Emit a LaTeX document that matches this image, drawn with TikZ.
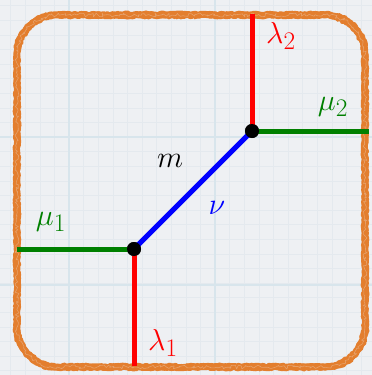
\documentclass[tikz,border=0pt]{standalone}
\usetikzlibrary{decorations.pathmorphing}
\definecolor{bgc}{RGB}{238,240,243}
\definecolor{gridminor}{RGB}{228,233,238}
\definecolor{gridmajor}{RGB}{216,229,236}
\definecolor{chalk}{RGB}{227,126,46}
\definecolor{lgreen}{RGB}{0,128,0}
\tikzset{
  minorline/.style={draw=gridminor, line width=0.6pt},
  majorline/.style={draw=gridmajor, line width=1.2pt},
  chalkline/.style={draw=chalk, line join=round,
     decorate, decoration={random steps, segment length=2pt, amplitude=#1}},
  redline/.style={draw=red, line width=5pt},
  greenline/.style={draw=lgreen, line width=5pt},
  blueline/.style={draw=blue, line width=5pt},
  dotnode/.style={circle, fill=black, inner sep=0pt, minimum size=14pt},
  lab/.style={inner sep=0pt, font=\Huge}
}
\newcommand{\biglab}[1]{\scalebox{1.22}{$#1$}}
\newcommand{\chalkpath}[4]{% left top right bottom
  (#1,#2+40) .. controls (#1,#2+18) and (#1+18,#2) .. (#1+40,#2)
  -- (#3-40,#2) .. controls (#3-18,#2) and (#3,#2+18) .. (#3,#2+40)
  -- (#3,#4-40) .. controls (#3,#4-18) and (#3-18,#4) .. (#3-40,#4)
  -- (#1+40,#4) .. controls (#1+18,#4) and (#1,#4-18) .. (#1,#4-40) -- cycle}
\begin{document}
\begin{tikzpicture}[x=1pt,y=-1pt]
\useasboundingbox (0,0) rectangle (372,375);
\fill[bgc] (0,0) rectangle (372,375);
% grid
\foreach \i in {0,...,26} {
  \draw[minorline] ({10.6+\i*14.6},0) -- ({10.6+\i*14.6},375);
  \draw[minorline] (0,{5.6+\i*14.6}) -- (372,{5.6+\i*14.6});
}
\foreach \i in {0,1} {
  \draw[majorline] ({69+\i*146},0) -- ({69+\i*146},375);
}
\draw[majorline] (0,137) -- (372,137);
\draw[majorline] (0,285) -- (372,285);
% chalk border
\pgfmathsetseed{11}
\draw[chalkline=0.8pt, line width=7pt] \chalkpath{17}{15}{365}{367};
\pgfmathsetseed{23}
\draw[chalkline=1.5pt, line width=4pt] \chalkpath{16}{14}{366}{368};
\pgfmathsetseed{37}
\draw[chalkline=1.5pt, line width=4pt] \chalkpath{18}{16}{364}{366};
\pgfmathsetseed{51}
\draw[chalkline=2pt, line width=0.6pt, draw=bgc, opacity=0.3] \chalkpath{17}{15}{365}{367};
% graph
\node[dotnode] (A) at (134,249) {};
\node[dotnode] (B) at (252,131) {};
\coordinate (L1) at (134,366);
\coordinate (L2) at (252,14);
\coordinate (M1) at (17,249);
\coordinate (M2) at (369,131);
\draw[redline] (A.center) -- (L1);
\draw[redline] (B.center) -- (L2);
\draw[greenline] (M1) -- (A.center);
\draw[greenline] (B.center) -- (M2);
\draw[blueline] (A.center) -- (B.center);
\node[dotnode] at (A) {};
\node[dotnode] at (B) {};
% labels
\node[lab, text=red] (l2) at (281,36) {\biglab{\lambda_2}};
\node[lab, text=lgreen] (m2) at (333,107) {\biglab{\mu_2}};
\node[lab, text=lgreen] (m1) at (51,222) {\biglab{\mu_1}};
\node[lab, text=red] (l1) at (163,343) {\biglab{\lambda_1}};
\node[lab] (mm) at (170,161) {\biglab{m}};
\node[lab, text=blue] (nu) at (217,208) {\biglab{\nu}};
\end{tikzpicture}
\end{document}
